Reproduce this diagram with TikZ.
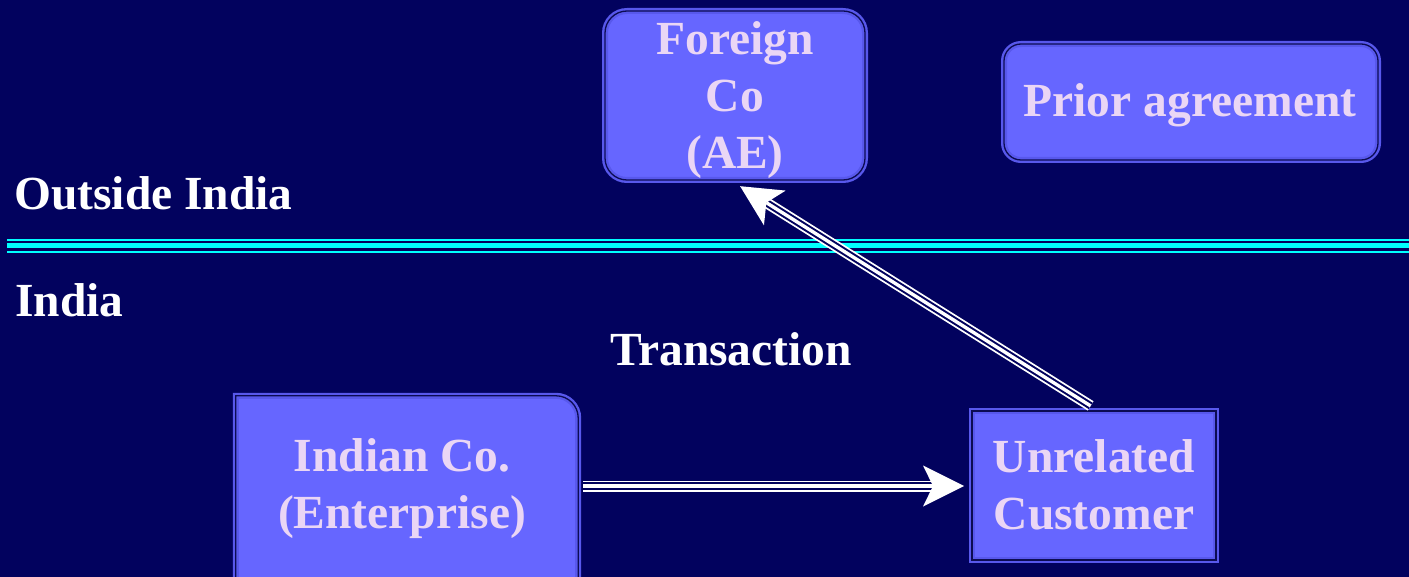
\documentclass[tikz,border=0pt]{standalone}
\usepackage{fontspec}
\setmainfont{Liberation Serif}
\usetikzlibrary{arrows.meta,calc}

\definecolor{bgnavy}{RGB}{2,2,94}
\definecolor{boxfill}{RGB}{102,102,255}
\definecolor{boxring}{RGB}{88,88,236}
\definecolor{boxline}{RGB}{12,12,84}
\definecolor{lavender}{RGB}{234,214,245}
\definecolor{sepcyan}{RGB}{0,255,255}

\begin{document}
\begin{tikzpicture}[x=1pt,y=-1pt,
  font=\fontsize{47.5}{57}\selectfont\bfseries,
  boxshape/.style={draw=boxring, line width=6pt, fill=boxfill,
    postaction={draw=boxline, line width=1.3pt}},
  box/.style={boxshape, inner sep=0pt, shape=rectangle},
  frame/.style={shape=rectangle, inner sep=0pt},
  boxtext/.style={text=lavender, align=center, inner sep=0pt},
  plaintext/.style={text=white, inner sep=0pt},
  sepline/.style={sepcyan},
  wireouter/.style={white, line width=11pt},
  wiregap/.style={bgnavy, line width=7.4pt},
  wirecore/.style={white, line width=3.4pt,
    -{Stealth[length=41pt, width=41pt, inset=10pt, line width=0pt]}},
]
% canvas
\fill[bgnavy] (0,0) rectangle (1409,577);
\useasboundingbox (0,0) rectangle (1409,577);

% border between the two regions
\coordinate (sepL) at (7,246);
\coordinate (sepR) at (1409,246);
\draw[sepline, line width=2.2pt] ($(sepL)+(0,-6)$) -- ($(sepR)+(0,-6)$);
\draw[sepline, line width=5pt] ($(sepL)+(0,-0.2)$) -- ($(sepR)+(0,-0.2)$);
\draw[sepline, line width=2.4pt] ($(sepL)+(0,5.8)$) -- ($(sepR)+(0,5.8)$);

% region labels
\node[plaintext, anchor=base west] (outside) at (14,210) {Outside India};
\node[plaintext, anchor=base west] (india) at (15,317) {India};
\node[plaintext, anchor=base] (trans) at (731,366) {Transaction};

% boxes
\node[box, rounded corners=22pt, minimum width=260pt, minimum height=169pt]
  (foreign) at (735,95.5) {};
\node[box, rounded corners=17pt, minimum width=374pt, minimum height=116pt]
  (prior) at (1191,102) {};
\node[box, minimum width=244pt, minimum height=149pt]
  (cust) at (1094,485.5) {};
\node[frame, minimum width=342pt, minimum height=224pt] (indian) at (407,508) {};
\draw[boxshape] (indian.south west) -- (indian.north west)
  -- ($(indian.north east)+(-22,0)$)
  .. controls +(12,0) and +(0,-12) .. ($(indian.north east)+(0,22)$)
  -- (indian.south east) -- cycle;

% box captions
\node[boxtext] (foreignT) at (735,100) {Foreign\\Co\\(AE)};
\node[boxtext, anchor=base] (priorT) at (1190,117) {Prior agreement};
\node[boxtext] (indianT) at (402,489) {Indian Co.\\(Enterprise)};
\node[boxtext] (custT) at (1094,485) {Unrelated\\Customer};

% transaction arrows (triple-stroke shafts)
\coordinate (flowY) at (0,486);
\draw[wireouter, shorten <=5pt, shorten >=36pt] (indian.east |- flowY) -- (cust.west |- flowY);
\draw[wiregap,   shorten <=5pt, shorten >=36pt] (indian.east |- flowY) -- (cust.west |- flowY);
\draw[wirecore,  shorten <=5pt, shorten >=5pt]  (indian.east |- flowY) -- (cust.west |- flowY);

\draw[wireouter, shorten <=4pt, shorten >=37pt] (cust.north) -- (foreign.south);
\draw[wiregap,   shorten <=4pt, shorten >=37pt] (cust.north) -- (foreign.south);
\draw[wirecore,  shorten <=4pt, shorten >=6pt]  (cust.north) -- (foreign.south);
\end{tikzpicture}
\end{document}
